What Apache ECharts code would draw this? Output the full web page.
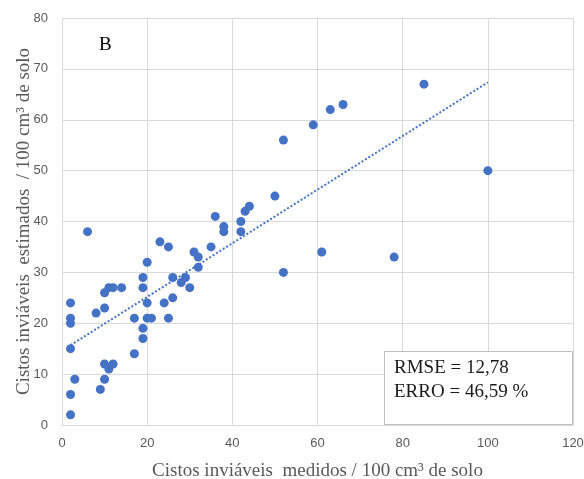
<!DOCTYPE html>
<html>
<head>
<meta charset="utf-8">
<script src="https://cdn.jsdelivr.net/npm/echarts@6/dist/echarts.min.js"></script>
<style>
    html, body { margin: 0; padding: 0; background: #fff; }
    #chart { width: 584px; height: 479px; }
</style>
</head>
<body>
<div id="chart"></div>
<script>
// valores medidos (x) e estimados (y)
var medidos = [2, 2, 3, 2, 2, 2, 2, 6, 8, 10, 10, 11, 12, 14, 9, 10, 10, 11, 12,
    17, 17, 19, 19, 19, 19, 20, 20, 20, 21, 23, 25, 24, 25, 26, 26, 28, 29, 30,
    31, 32, 32, 35, 36, 38, 38, 42, 42, 43, 44, 50, 52, 59, 63, 66, 85, 100, 52, 61, 78];
var estimados = [2, 6, 9, 15, 20, 21, 24, 38, 22, 23, 26, 27, 27, 27, 7, 9, 12, 11, 12,
    14, 21, 17, 19, 27, 29, 32, 24, 21, 21, 36, 35, 24, 21, 29, 25, 28, 29, 27,
    34, 33, 31, 35, 41, 39, 38, 38, 40, 42, 43, 45, 56, 59, 62, 63, 67, 50, 30, 34, 33];
var xTicks = [0, 20, 40, 60, 80, 100, 120];
var yTicks = [0, 10, 20, 30, 40, 50, 60, 70, 80];
var statsLines = ['RMSE = 12,78', 'ERRO = 46,59 %'];

var pontos = medidos.map(function (x, i) { return [x, estimados[i]]; });

// linha de tendência (mínimos quadrados)
var n = medidos.length, sx = 0, sy = 0, sxx = 0, sxy = 0;
for (var i = 0; i < n; i++) {
    sx += medidos[i]; sy += estimados[i];
    sxx += medidos[i] * medidos[i]; sxy += medidos[i] * estimados[i];
}
var slope = (n * sxy - sx * sy) / (n * sxx - sx * sx);
var intercept = (sy - slope * sx) / n;
var xMin = Math.min.apply(null, medidos), xMax = Math.max.apply(null, medidos);
var tendencia = [[xMin, intercept + slope * xMin], [xMax, intercept + slope * xMax]];

var chart = echarts.init(document.getElementById('chart'));
var gridColor = '#d9d9d9';
var serif = '"Liberation Serif", "Times New Roman", serif';

var option = {
    animation: false,
    grid: { left: 62, right: 11, top: 18, bottom: 54, containLabel: false, outerBoundsMode: 'none' },
    xAxis: {
        type: 'value', min: xTicks[0], max: xTicks[xTicks.length - 1], interval: 20,
        name: 'Cistos inviáveis  medidos / 100 cm³ de solo',
        nameLocation: 'middle', nameGap: 37,
        nameTextStyle: { fontFamily: serif, fontSize: 19, color: '#595959' },
        axisLine: { lineStyle: { color: gridColor } },
        axisTick: { show: false },
        axisLabel: { fontFamily: '"Liberation Sans", Arial', fontSize: 13, color: '#595959', margin: 12 },
        splitLine: { lineStyle: { color: gridColor, width: 1 } }
    },
    yAxis: {
        type: 'value', min: yTicks[0], max: yTicks[yTicks.length - 1], interval: 10,
        name: 'Cistos inviáveis  estimados  / 100 cm³ de solo',
        nameLocation: 'middle', nameGap: 28, nameMoveOverlap: false,
        nameTextStyle: { fontFamily: serif, fontSize: 19, color: '#595959' },
        axisLine: { show: true, lineStyle: { color: gridColor } },
        axisTick: { show: false },
        axisLabel: { fontFamily: '"Liberation Sans", Arial', fontSize: 13, color: '#595959', margin: 14 },
        splitLine: { lineStyle: { color: gridColor, width: 1 } }
    },
    series: [
        {
            type: 'scatter', data: pontos, symbolSize: 9,
            itemStyle: { color: '#4472c4', opacity: 1 },
            z: 3
        },
        {
            type: 'line', data: tendencia, showSymbol: false, symbol: 'none',
            lineStyle: { color: '#4472c4', width: 2, type: [2, 2] },
            z: 2
        }
    ],
    graphic: [
        {
            type: 'text', left: 99, top: 36, silent: true,
            style: { text: 'B', font: '19px ' + serif, fill: '#000' }
        },
        {
            type: 'rect', shape: { x: 384.5, y: 351.5, width: 188, height: 73 }, silent: true,
            style: { fill: '#fff', stroke: '#bfbfbf', lineWidth: 1 }, z: 10
        },
        {
            type: 'text', left: 394, top: 356, silent: true, z: 11,
            style: { text: statsLines.join('\n'), font: '19px ' + serif, fill: '#1a1a1a', lineHeight: 24 }
        }
    ]
};
chart.setOption(option);
</script>
</body>
</html>
